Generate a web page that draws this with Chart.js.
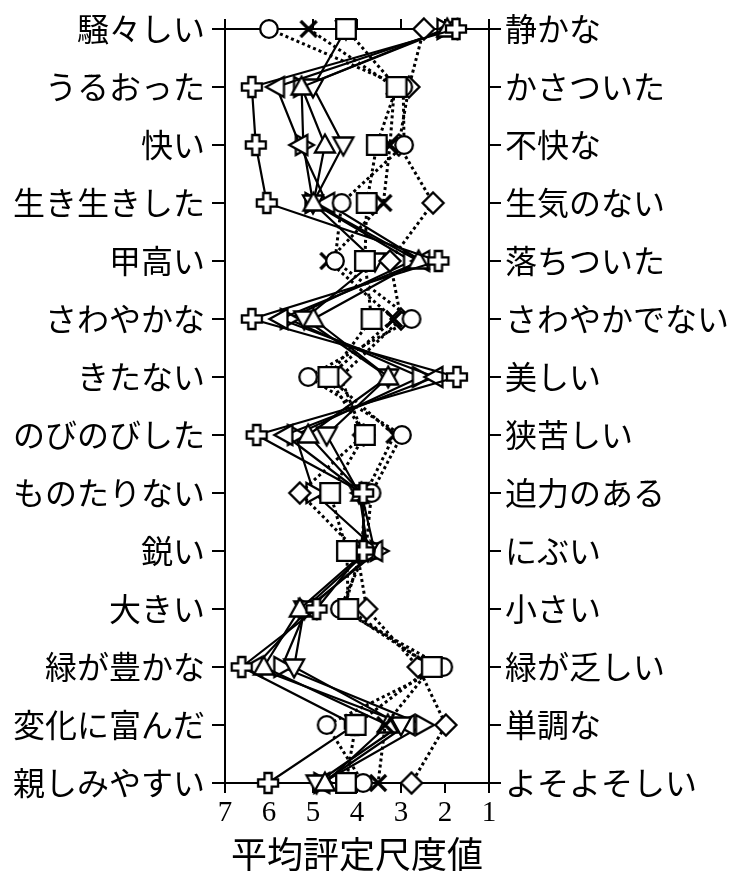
<!DOCTYPE html>
<html>
<head>
<meta charset="utf-8">
<script src="https://cdn.jsdelivr.net/npm/chart.js@4/dist/chart.umd.min.js"></script>
<style>
html,body{margin:0;padding:0;background:#fff;}
#wrap{width:733px;height:881px;}
</style>
</head>
<body>
<div id="wrap"><canvas id="c" width="733" height="881"></canvas></div>
<script>
// ---- data ----
const leftLabels = ['騒々しい','うるおった','快い','生き生きした','甲高い','さわやかな','きたない','のびのびした','ものたりない','鋭い','大きい','緑が豊かな','変化に富んだ','親しみやすい'];
const rightLabels = ['静かな','かさついた','不快な','生気のない','落ちついた','さわやかでない','美しい','狭苦しい','迫力のある','にぶい','小さい','緑が乏しい','単調な','よそよそしい'];
const xTickLabels = ['7','6','5','4','3','2','1'];
const xAxisTitle = '平均評定尺度値';

// dotted series
const circleValues  = [6.00, 2.95, 2.93, 4.35, 4.50, 2.76, 5.11, 2.98, 3.67, 3.80, 4.39, 2.04, 4.69, 3.86];
const xMarkValues   = [5.10, 3.15, 3.25, 3.40, 4.65, 3.16, 4.65, 3.15, 3.80, 3.90, 4.30, 2.30, 3.36, 3.52];
const squareValues  = [4.25, 3.10, 3.55, 3.78, 3.82, 3.67, 4.65, 3.82, 4.61, 4.23, 4.20, 2.30, 4.03, 4.25];
const diamondValues = [2.48, 2.82, 3.05, 2.27, 3.25, 3.00, 4.38, 3.85, 5.30, 4.00, 3.78, 2.61, 1.98, 2.76];
// solid series
const plusValues     = [1.75, 6.39, 6.30, 6.05, 2.15, 6.39, 1.73, 6.28, 3.86, 3.86, 4.92, 6.62, 4.05, 6.02];
const triUpValues    = [1.95, 5.26, 4.73, 4.99, 2.60, 4.99, 3.29, 5.11, 3.90, 3.80, 5.30, 6.12, 3.30, 4.73];
const triDownValues  = [4.25, 5.00, 4.31, 5.00, 3.59, 5.20, 3.29, 4.69, 3.95, 3.75, 5.20, 5.43, 3.00, 4.92];
const triLeftValues  = [1.90, 5.83, 5.30, 4.69, 2.53, 5.75, 2.23, 5.64, 3.90, 3.60, 5.10, 6.33, 2.87, 4.80];
const triRightValues = [2.00, 5.26, 5.22, 5.00, 2.76, 5.56, 2.56, 5.40, 4.98, 3.52, 5.15, 5.71, 2.49, 4.80];

// ---- markers ----
function makeMarker(kind, angle) {
  const s = 30, c = s / 2;
  const cv = document.createElement('canvas');
  cv.width = s; cv.height = s;
  const g = cv.getContext('2d');
  g.lineWidth = 2.3; g.strokeStyle = '#000'; g.fillStyle = '#fff'; g.lineJoin = 'miter';
  g.beginPath();
  const poly = pts => {
    const a = (angle || 0) * Math.PI / 180, co = Math.cos(a), si = Math.sin(a);
    pts.forEach((p, i) => {
      const x = c + p[0] * co - p[1] * si, y = c + p[0] * si + p[1] * co;
      if (i === 0) g.moveTo(x, y); else g.lineTo(x, y);
    });
    g.closePath();
  };
  if (kind === 'circle') { g.arc(c, c, 8.8, 0, Math.PI * 2); }
  else if (kind === 'square') { g.rect(c - 9.8, c - 9.8, 19.6, 19.6); }
  else if (kind === 'diamond') { poly([[0,-10.5],[10.5,0],[0,10.5],[-10.5,0]]); }
  else if (kind === 'tri') { poly([[0,-10.5],[10,7.5],[-10,7.5]]); }
  else if (kind === 'plus') {
    const a = 3.6, L = 10;
    poly([[-a,-L],[a,-L],[a,-a],[L,-a],[L,a],[a,a],[a,L],[-a,L],[-a,a],[-L,a],[-L,-a],[-a,-a]]);
  }
  if (kind === 'x') {
    g.lineWidth = 3.2;
    g.moveTo(c - 8, c - 8); g.lineTo(c + 8, c + 8);
    g.moveTo(c + 8, c - 8); g.lineTo(c - 8, c + 8);
    g.stroke();
  } else {
    g.fill(); g.stroke();
  }
  return cv;
}

function toPoints(vals) { return vals.map((v, i) => ({x: v, y: leftLabels[i]})); }

function ds(name, vals, marker, dotted) {
  return {
    label: name,
    data: toPoints(vals),
    borderColor: '#000',
    backgroundColor: '#fff',
    borderWidth: dotted ? 3 : 2.2,
    borderDash: dotted ? [3, 3] : [],
    borderCapStyle: 'butt',
    pointStyle: marker,
    pointRadius: 10,
    pointHoverRadius: 10,
    fill: false,
    tension: 0,
    clip: false
  };
}

// first dataset is drawn on top
const datasets = [
  ds('square', squareValues, makeMarker('square'), true),
  ds('plus', plusValues, makeMarker('plus'), false),
  ds('circle', circleValues, makeMarker('circle'), true),
  ds('x', xMarkValues, makeMarker('x'), true),
  ds('diamond', diamondValues, makeMarker('diamond'), true),
  ds('triUp', triUpValues, makeMarker('tri', 0), false),
  ds('triDown', triDownValues, makeMarker('tri', 180), false),
  ds('triLeft', triLeftValues, makeMarker('tri', 270), false),
  ds('triRight', triRightValues, makeMarker('tri', 90), false)
];

Chart.defaults.color = '#000';
const jp = "'Noto Sans CJK JP', 'Noto Sans', sans-serif";
const serif = "'Liberation Serif', 'DejaVu Serif', serif";

new Chart(document.getElementById('c'), {
  type: 'line',
  data: { labels: leftLabels, datasets: datasets },
  options: {
    responsive: false,
    devicePixelRatio: 1,
    animation: false,
    layout: { padding: 0 },
    plugins: { legend: { display: false }, tooltip: { enabled: false } },
    scales: {
      x: {
        type: 'linear', position: 'bottom', min: 1, max: 7, reverse: true,
        ticks: { stepSize: 1, font: { family: serif, size: 29 }, color: '#000', padding: 3,
                 callback: v => xTickLabels[7 - v] },
        grid: { drawOnChartArea: false, drawTicks: true, tickLength: 10, color: '#000', lineWidth: 2 },
        border: { display: true, color: '#000', width: 2 },
        title: { display: true, text: xAxisTitle, font: { family: jp, size: 36 }, color: '#000', padding: { top: 0, bottom: 5 } },
        afterFit: s => { s.height = 98; }
      },
      x2: {
        type: 'linear', axis: 'x', position: 'top', min: 1, max: 7, reverse: true,
        ticks: { stepSize: 1, display: false },
        grid: { drawOnChartArea: false, drawTicks: true, tickLength: 10, color: '#000', lineWidth: 2 },
        border: { display: true, color: '#000', width: 2 },
        afterFit: s => { s.height = 29; }
      },
      y: {
        type: 'category', position: 'left', offset: false,
        ticks: { font: { family: jp, size: 32 }, color: '#000', padding: 7, autoSkip: false },
        grid: { drawOnChartArea: false, drawTicks: true, tickLength: 13, color: '#000', lineWidth: 2, offset: false },
        border: { display: true, color: '#000', width: 2 },
        afterFit: s => { s.width = 225; }
      },
      y2: {
        type: 'category', axis: 'y', position: 'right', offset: false, labels: rightLabels,
        ticks: { font: { family: jp, size: 32 }, color: '#000', padding: 4, autoSkip: false },
        grid: { drawOnChartArea: false, drawTicks: true, tickLength: 12, color: '#000', lineWidth: 2, offset: false },
        border: { display: true, color: '#000', width: 2 },
        afterFit: s => { s.width = 244; }
      }
    }
  }
});
</script>
</body>
</html>
